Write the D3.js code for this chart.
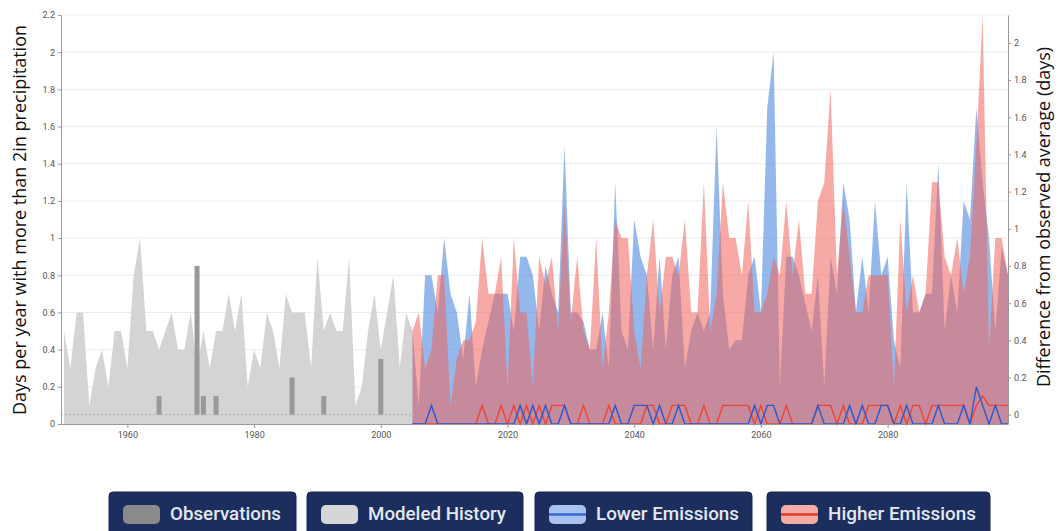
<!DOCTYPE html>
<html><head><meta charset="utf-8">
<script src="https://cdn.jsdelivr.net/npm/d3@7"></script>
<style>
body{margin:0;background:#fff;}
svg{display:block;}
</style></head><body>
<svg id="c" width="1060" height="531"></svg>
<script>
// ---------------- DATA ----------------
const histStart = 1950;
const modeledHistory = [0.5,0.3,0.6,0.6,0.1,0.3,0.4,0.2,0.5,0.5,
  0.3,0.8,1.0,0.5,0.5,0.4,0.5,0.6,0.4,0.4,
  0.6,0.3,0.5,0.3,0.5,0.5,0.7,0.5,0.7,0.2,
  0.4,0.3,0.6,0.5,0.3,0.7,0.6,0.6,0.6,0.3,
  0.9,0.5,0.6,0.5,0.5,0.9,0.1,0.2,0.5,0.7,
  0.4,0.6,0.8,0.3,0.6,0.5];
const obsYears = [1965,1971,1972,1974,1986,1991,2000];
const obsValues = [0.15,0.85,0.15,0.15,0.25,0.15,0.35];
const observedAverage = 0.05;

const projStart = 2005;
const lowerMax = [0.5,0.1,0.8,0.8,0.6,1.0,0.7,0.6,0.35,0.7,
  0.2,0.4,0.55,0.7,0.7,0.7,0.5,0.9,0.9,0.8,
  0.5,0.85,0.7,0.6,1.5,0.6,0.6,0.55,0.4,0.4,
  0.6,0.3,1.3,0.5,0.4,1.1,0.9,0.8,0.4,0.9,
  0.4,0.8,0.9,0.3,0.5,0.6,0.5,0.6,1.6,0.7,
  0.4,0.45,0.45,0.8,0.9,0.6,1.7,2.0,0.2,0.9,
  0.9,0.8,0.65,0.5,0.8,0.2,0.9,0.7,1.3,1.1,
  0.6,0.9,0.6,1.2,0.8,0.9,0.45,0.3,1.3,0.6,
  0.6,0.7,0.7,1.4,0.5,0.8,0.6,1.2,1.1,1.7,
  1.3,1.0,0.5,0.95,0.8];
const higherMax = [0.5,0.6,0.3,0.4,0.8,0.8,0.1,0.35,0.45,0.45,
  0.55,1.0,0.7,0.7,0.9,0.2,1.0,0.6,0.6,0.2,
  0.9,0.75,0.9,0.5,1.2,0.55,0.9,0.5,0.4,1.0,
  0.3,0.6,1.1,1.0,1.0,0.5,0.3,0.8,1.1,0.6,
  0.9,0.9,0.8,1.1,0.6,0.6,1.3,0.5,0.7,1.3,
  1.0,1.0,0.8,1.2,0.6,0.6,0.7,0.9,0.8,1.2,
  0.8,1.1,0.7,0.7,1.2,1.3,1.8,0.8,1.2,0.9,
  0.6,0.6,0.8,0.8,0.8,0.8,0.2,1.1,0.6,0.8,
  0.6,0.7,1.3,1.3,0.9,0.8,1.0,0.7,0.9,1.5,
  2.2,0.4,1.0,1.0,0.8];
const lowerMedian = [0,0,0,0.1,0,0,0,0,0,0,
  0,0,0,0,0,0,0,0.1,0,0.1,
  0,0.1,0,0,0.1,0,0,0,0,0,
  0,0,0.1,0,0,0.1,0.1,0.1,0,0.1,
  0,0,0.1,0,0,0,0,0,0,0,
  0,0,0,0,0.1,0,0.1,0.1,0,0,
  0,0,0,0,0.1,0,0,0,0,0.1,
  0,0.1,0,0,0.1,0.1,0,0,0.1,0,
  0,0,0,0.1,0,0,0,0.1,0,0.2,
  0.1,0,0.1,0,0];
const higherMedian = [0,0,0,0,0,0,0,0,0,0,
  0,0.1,0,0,0.1,0,0.1,0,0.1,0,
  0.1,0,0.1,0.1,0.1,0,0,0.1,0,0,
  0,0.1,0,0,0,0,0,0.1,0.1,0,
  0,0.1,0.1,0.1,0,0,0.1,0,0,0.1,
  0.1,0.1,0.1,0.1,0,0.1,0,0,0,0.1,
  0,0,0,0,0.1,0.1,0.1,0,0.1,0,
  0,0,0.1,0.1,0.1,0.1,0,0.1,0,0.1,
  0.1,0,0.1,0.1,0.1,0.1,0.1,0.1,0,0.1,
  0.15,0.1,0.1,0.1,0.1];

const xTicks = [1960,1980,2000,2020,2040,2060,2080];
const leftTicks = [0,0.2,0.4,0.6,0.8,1,1.2,1.4,1.6,1.8,2,2.2];
const rightTicks = [0,0.2,0.4,0.6,0.8,1,1.2,1.4,1.6,1.8,2];
const legendItems = ["Observations","Modeled History","Lower Emissions","Higher Emissions"];

// ---------------- CHART ----------------
const svg = d3.select("#c");
const x = d3.scaleLinear().domain([1950, 2099]).range([64, 1008]);
const y = d3.scaleLinear().domain([0, 2.2]).range([424, 15]);
const yR = d3.scaleLinear().domain([-observedAverage, 2.2 - observedAverage]).range([424, 15]);

const hist = modeledHistory.map((v,i)=>({year:histStart+i, v}));
const low = lowerMax.map((v,i)=>({year:projStart+i, v}));
const high = higherMax.map((v,i)=>({year:projStart+i, v}));
const lowMed = lowerMedian.map((v,i)=>({year:projStart+i, v}));
const highMed = higherMedian.map((v,i)=>({year:projStart+i, v}));

// gridlines
svg.append("g").selectAll("line").data(leftTicks.filter(d=>d>0)).join("line")
  .attr("x1", 61).attr("x2", 1008)
  .attr("y1", d=>y(d)).attr("y2", d=>y(d))
  .attr("stroke", "#ececec").attr("stroke-width", 1);

const area = d3.area().x(d=>x(d.year)).y0(y(0)).y1(d=>y(d.v));
const line = d3.line().x(d=>x(d.year)).y(d=>y(d.v));

svg.append("path").datum(hist).attr("d", area).attr("fill", "#d4d4d4");

svg.append("g").selectAll("rect").data(obsYears).join("rect")
  .attr("x", d=>x(d)-2.5).attr("width", 5)
  .attr("y", (d,i)=>y(obsValues[i]))
  .attr("height", (d,i)=>y(observedAverage)-y(obsValues[i]))
  .attr("fill", "#999");

svg.append("path").datum(low).attr("d", area).attr("fill", "rgb(82,140,224)").attr("fill-opacity", 0.62);
svg.append("path").datum(high).attr("d", area).attr("fill", "rgb(240,100,91)").attr("fill-opacity", 0.55);

svg.append("line").attr("x1", 61).attr("x2", 1008)
  .attr("y1", y(observedAverage)).attr("y2", y(observedAverage))
  .attr("stroke", "#a8a8a8").attr("stroke-width", 0.8).attr("stroke-dasharray", "2,2");

svg.append("path").datum(highMed).attr("d", line).attr("fill", "none")
  .attr("stroke", "#ee4433").attr("stroke-width", 1.4);
svg.append("path").datum(lowMed).attr("d", line).attr("fill", "none")
  .attr("stroke", "#2b58cf").attr("stroke-width", 1.4);

// axes
function styleAxis(g){
  g.selectAll("path.domain").attr("stroke", "#999");
  g.selectAll(".tick line").attr("stroke", "#999");
  g.selectAll("text").attr("fill", "#555").style("font-family", "Roboto, sans-serif").style("font-size", "9px");
}
const fmt = d3.format("~g");
svg.append("g").attr("transform", "translate(61,0)")
  .call(d3.axisLeft(y).tickValues(leftTicks).tickFormat(fmt).tickSize(3).tickSizeOuter(0).tickPadding(3))
  .call(styleAxis);
svg.append("g").attr("transform", "translate(1008,0)")
  .call(d3.axisRight(yR).tickValues(rightTicks).tickFormat(fmt).tickSize(3).tickSizeOuter(0).tickPadding(3))
  .call(styleAxis);
const xg = svg.append("g").attr("transform", "translate(0,424)")
  .call(d3.axisBottom(x).tickValues(xTicks).tickFormat(d3.format("d")).tickSize(4).tickSizeOuter(0).tickPadding(4))
  .call(styleAxis);
xg.select("path.domain").attr("d", "M61,0.5H1008");

// axis titles
svg.append("text").attr("transform", "translate(26,220) rotate(-90)")
  .attr("text-anchor", "middle").style("font-family", "'Open Sans', sans-serif")
  .style("font-size", "18px").attr("fill", "#111")
  .text("Days per year with more than 2in precipitation");
svg.append("text").attr("transform", "translate(1050,217) rotate(-90)")
  .attr("text-anchor", "middle").style("font-family", "'Open Sans', sans-serif")
  .style("font-size", "18px").attr("fill", "#111")
  .text("Difference from observed average (days)");

// legend
const btnX = [109, 307, 535, 767];
const btnW = [187, 216, 217, 223];
const textW = [111, 138, 143, 148];
const swFill = ["#8a8a8a", "#d6d6d6", "#a9c3ef", "#f4aca7"];
const swLine = [null, null, "#3467d0", "#e5392b"];
const lg = svg.append("g");
legendItems.forEach((name, i) => {
  const g = lg.append("g").attr("transform", `translate(${btnX[i]},492)`);
  g.append("rect").attr("width", btnW[i]).attr("height", 45).attr("rx", 4)
    .attr("fill", "#1b2e5e").attr("stroke", "#14244d");
  g.append("rect").attr("x", 14).attr("y", 13).attr("width", 37).attr("height", 19).attr("rx", 5)
    .attr("fill", swFill[i]);
  if (swLine[i]) g.append("line").attr("x1", 14).attr("x2", 51).attr("y1", 22.5).attr("y2", 22.5)
    .attr("stroke", swLine[i]).attr("stroke-width", 2.5);
  g.append("text").attr("x", 61).attr("y", 28)
    .attr("textLength", textW[i]).attr("lengthAdjust", "spacingAndGlyphs")
    .style("font-family", "Roboto, sans-serif").style("font-size", "18px").style("font-weight", "500")
    .attr("fill", "#e3e8f2").text(name);
});
</script>
</body></html>
